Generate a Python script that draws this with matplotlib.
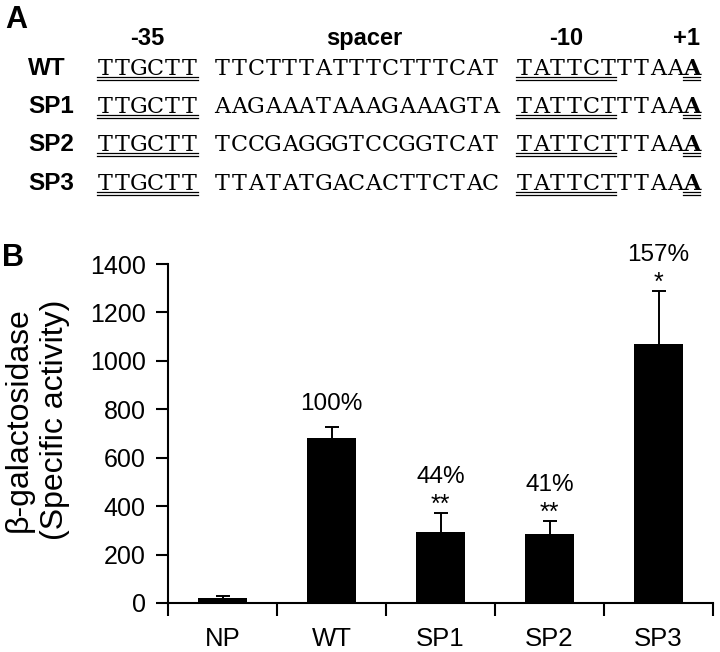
import numpy as np
import matplotlib
matplotlib.use("Agg")
import matplotlib.pyplot as plt
from matplotlib.lines import Line2D

plt.rcParams['font.family'] = ['Liberation Sans', 'DejaVu Sans']

# panel A: promoter sequences
rows = ['WT', 'SP1', 'SP2', 'SP3']
box35 = 'TTGCTT'
spacers = ['TTCTTTATTTCTTTCAT', 'AAGAAATAAAGAAAGTA',
           'TCCGAGGGTCCGGTCAT', 'TTATATGACACTTCTAC']
box10 = 'TATTCT'
tail = 'TTAA'
start = 'A'
headers = ['-35', 'spacer', '-10', '+1']

# panel B: beta-galactosidase activity
strains = ['NP', 'WT', 'SP1', 'SP2', 'SP3']
activity = [20, 680, 293, 286, 1068]
sd = [10, 47, 79, 53, 220]
pct = ['', '100%', '44%', '41%', '157%']
stars = ['', '', '**', '**', '*']

W, H = 720, 652
fig = plt.figure(figsize=(W / 100, H / 100), dpi=100)


def fx(px):
    return px / W


def fy(py):
    return 1 - py / H


fig.text(fx(5), fy(28), 'A', fontsize=22, fontweight='bold', va='baseline')
fig.text(fx(2), fy(266), 'B', fontsize=22, fontweight='bold', va='baseline')

# courier-like look: serif glyphs set on a fixed character grid
seq_font = 'DejaVu Serif'
seq_size = 16
cw = 16.75   # char cell width in px
x0 = 97


def seq_text(s, col, yb, bold=False):
    for k, ch in enumerate(s):
        fig.text(fx(x0 + (col + k + 0.5) * cw), fy(yb), ch, family=seq_font,
                 fontsize=seq_size, fontweight='bold' if bold else 'normal',
                 ha='center', va='baseline')


# column headers
fig.text(fx(x0 + 3 * cw), fy(45), headers[0], fontsize=17, fontweight='bold', ha='center', va='baseline')
fig.text(fx(364), fy(45), headers[1], fontsize=17, fontweight='bold', ha='center', va='baseline')
fig.text(fx(x0 + 28 * cw), fy(45), headers[2], fontsize=17, fontweight='bold', ha='center', va='baseline')
fig.text(fx(x0 + 36 * cw), fy(45), headers[3], fontsize=17, fontweight='bold', ha='right', va='baseline')

row_y = [75, 113, 151, 190]


def underline(c0, c1, base):
    for off in (2.4, 5.0):
        fig.add_artist(Line2D([fx(x0 + c0 * cw), fx(x0 + c1 * cw)],
                              [fy(base + off), fy(base + off)],
                              color='black', lw=0.9, transform=fig.transFigure))


for name, sp, yb in zip(rows, spacers, row_y):
    fig.text(fx(28), fy(yb), name, fontsize=17.5, fontweight='bold', va='baseline')
    seq_text(box35, 0, yb)
    seq_text(sp, 7, yb)
    seq_text(box10, 25, yb)
    seq_text(tail, 31, yb)
    seq_text(start, 35, yb, bold=True)
    underline(0, 6, yb)
    underline(25, 31, yb)
    underline(35, 36, yb)

# panel B bar chart
ax = fig.add_axes([fx(168), 1 - 603 / H, 545 / W, 339 / H])
x = np.arange(len(strains))
ax.errorbar(x, activity, yerr=sd, fmt='none', ecolor='black', elinewidth=1.4,
            capsize=5, capthick=1.4, zorder=1)
ax.bar(x, activity, width=0.45, color='black', zorder=2)

ax.set_xlim(-0.5, 4.5)
ax.set_ylim(0, 1400)
ax.set_yticks(np.arange(0, 1401, 200))
ax.set_xticks(x)
ax.set_xticklabels(strains)
ax.set_xticks(np.arange(-0.5, 4.6, 1), minor=True)
ax.spines['top'].set_visible(False)
ax.spines['right'].set_visible(False)
ax.spines['left'].set_linewidth(1.5)
ax.spines['bottom'].set_linewidth(1.5)
ax.tick_params(axis='y', length=9, width=1.5, labelsize=18, pad=7)
ax.tick_params(axis='x', which='major', length=0, labelsize=18.5, pad=17)
ax.tick_params(axis='x', which='minor', length=9, width=1.5)

for i in range(len(strains)):
    top = activity[i] + sd[i]
    if stars[i]:
        ax.annotate(stars[i], xy=(i, top), xytext=(0, 1), textcoords='offset points',
                    ha='center', va='baseline', fontsize=18, annotation_clip=False)
        ax.annotate(pct[i], xy=(i, top), xytext=(0, 21.5), textcoords='offset points',
                    ha='center', va='baseline', fontsize=17.5, annotation_clip=False)
    elif pct[i]:
        ax.annotate(pct[i], xy=(i, top), xytext=(0, 12.5), textcoords='offset points',
                    ha='center', va='baseline', fontsize=17.5, annotation_clip=False)

fig.text(fx(37), fy(420), 'β-galactosidase\n(Specific activity)', rotation=90,
         ha='center', va='center', multialignment='center', fontsize=23, linespacing=1.3)

fig.savefig('out.png', dpi=100)
